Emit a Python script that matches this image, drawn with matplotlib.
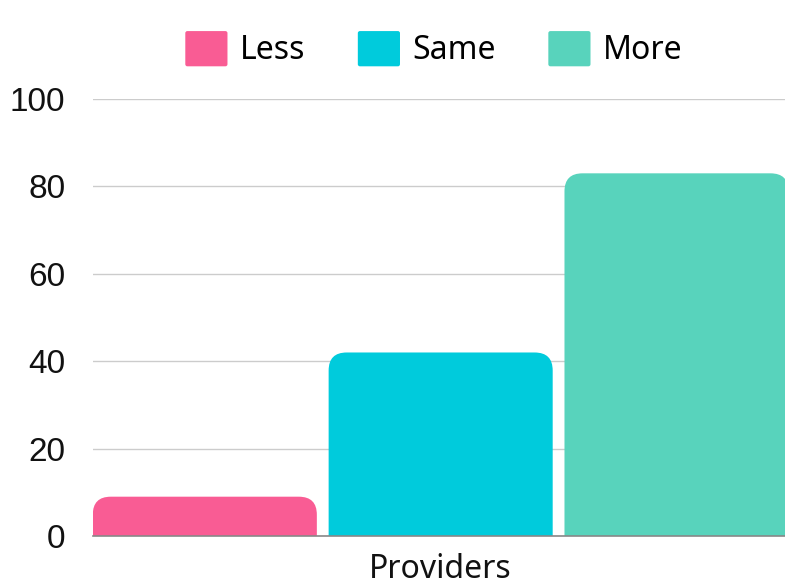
import matplotlib
matplotlib.use('Agg')
import matplotlib.pyplot as plt
from matplotlib.patches import FancyBboxPatch, Patch
from matplotlib.legend_handler import HandlerPatch

plt.rcParams['font.family'] = ['Noto Sans', 'DejaVu Sans']

# data
series = ['Less', 'Same', 'More']
values = [9, 42, 83]
category = 'Providers'
colors = ['#F95C94', '#00CBDC', '#58D3BC']
yticks = [0, 20, 40, 60, 80, 100]

fig = plt.figure(figsize=(7.85, 5.86), dpi=100)
ax = fig.add_axes([0.1185, 0.0853, 0.8815, 0.7457])
xlo, xhi = -0.474, 2.46
ax.set_xlim(xlo, xhi)
ax.set_ylim(0, 100)

x = list(range(len(values)))
bars = ax.bar(x, values, width=0.95, color=colors)

# round the top corners of each bar
axw = 0.8815 * 785
axh = 0.7457 * 586
pxx = axw / (xhi - xlo)
pxy = axh / 100.0
radius = 18
rx = radius / pxx
aspect = pxx / pxy
ry = rx * aspect
for b, c in zip(bars, colors):
    x0 = b.get_x()
    w = b.get_width()
    h = b.get_height()
    b.remove()
    p = FancyBboxPatch((x0, -2 * ry), w, h + 2 * ry,
                       boxstyle='round,pad=0,rounding_size=%f' % rx,
                       mutation_aspect=aspect, facecolor=c, edgecolor='none',
                       linewidth=0, zorder=2)
    ax.add_patch(p)

ax.set_yticks(yticks)
ax.set_yticklabels([str(t) for t in yticks], family=['Liberation Sans', 'DejaVu Sans'])
ax.set_xticks([1])
ax.set_xticklabels([category])
ax.tick_params(axis='y', length=0, pad=20, labelsize=24, labelcolor='#111111')
ax.tick_params(axis='x', length=0, pad=12, labelsize=23, labelcolor='#111111')
ax.yaxis.grid(True, color='#cccccc', linewidth=1)
ax.set_axisbelow(True)
for s in ['top', 'right', 'left']:
    ax.spines[s].set_visible(False)
ax.spines['bottom'].set_color('#888888')
ax.spines['bottom'].set_linewidth(1.2)


def make_handle(legend, orig_handle, xdescent, ydescent, width, height, fontsize):
    return FancyBboxPatch((-xdescent, -ydescent), width, height,
                          boxstyle='round,pad=0,rounding_size=1.5')


handles = [Patch(facecolor=c, edgecolor='none', label=s) for s, c in zip(series, colors)]
fig.legend(handles=handles, loc='center', bbox_to_anchor=(0.553, 0.916), ncol=3,
           frameon=False, fontsize=23, handlelength=1.32, handleheight=1.32,
           handletextpad=0.4, columnspacing=1.63,
           handler_map={Patch: HandlerPatch(patch_func=make_handle)})

fig.savefig('out.png', dpi=100)
